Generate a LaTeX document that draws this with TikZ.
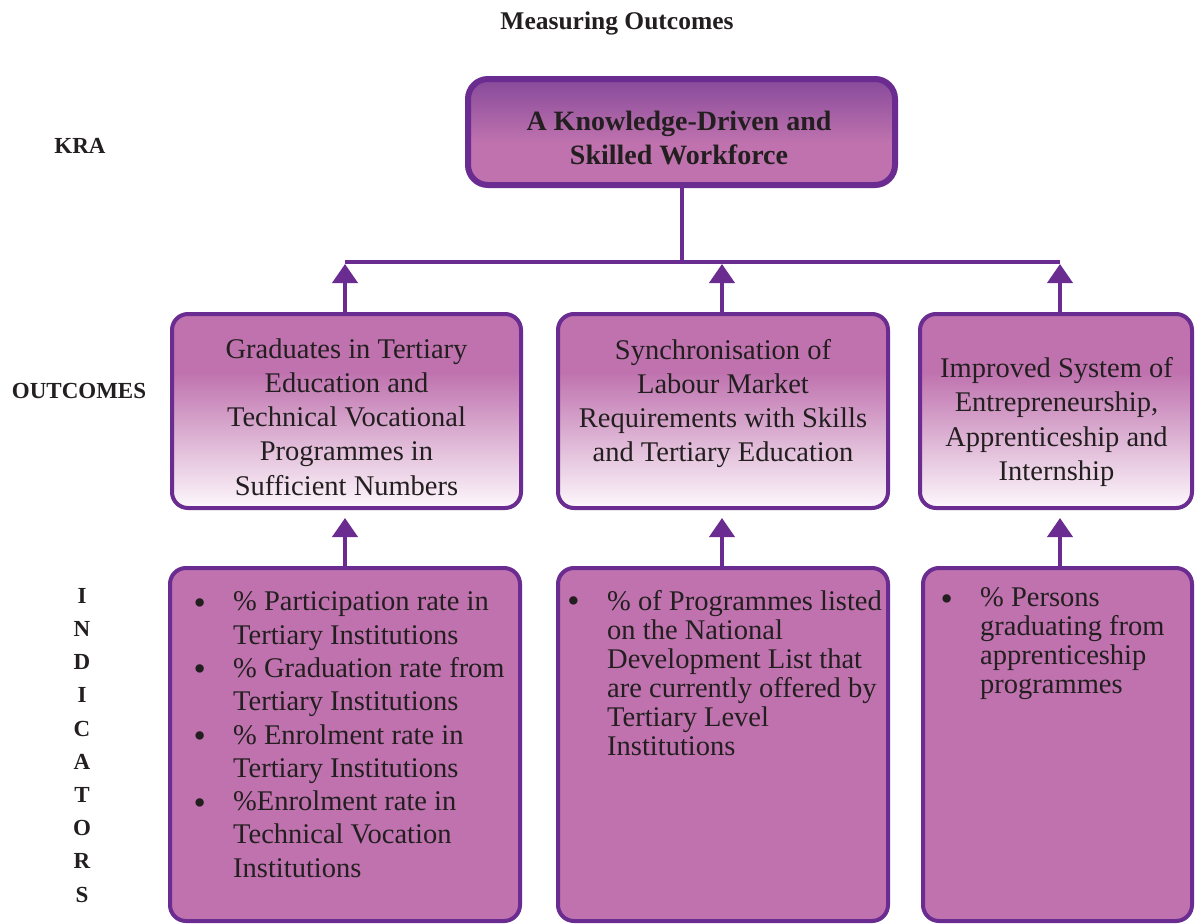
\documentclass[tikz,border=0pt]{standalone}
\usepackage{fontspec}
\setmainfont{Liberation Serif}
\usetikzlibrary{arrows.meta}

\definecolor{edge}{HTML}{6A2C91}
\definecolor{pinkfill}{HTML}{BF72AE}
\definecolor{darktop}{HTML}{874A9A}
\definecolor{paletop}{HTML}{FDF8FC}
\definecolor{ink}{HTML}{231F20}

% dark-to-pink fill of the result area box, pink-to-white fill of the outcome boxes
\pgfdeclareverticalshading{kragrad}{100bp}{color(0bp)=(pinkfill); color(25bp)=(pinkfill); color(45bp)=(pinkfill); color(75bp)=(darktop); color(100bp)=(darktop)}
\pgfdeclareverticalshading{outgrad}{100bp}{color(0bp)=(paletop); color(25bp)=(paletop); color(60bp)=(pinkfill); color(100bp)=(pinkfill)}

\tikzset{
  boxline/.style={draw=edge, line width=4pt, rounded corners=16pt, inner sep=0pt, outer sep=0pt},
  krabox/.style={boxline, line width=6pt, rounded corners=20pt, shade, shading=kragrad},
  outbox/.style={boxline, shade, shading=outgrad},
  indbox/.style={boxline, fill=pinkfill},
  wire/.style={draw=edge, line width=4pt},
  uparrow/.style={wire, -{Triangle[width=25pt,length=19pt]}},
  rowlabel/.style={inner sep=0pt, text=ink, anchor=base, font=\fontsize{23}{33.2}\selectfont\bfseries},
  bodytext/.style={inner sep=0pt, text=ink, font=\fontsize{28.5}{34.3}\selectfont},
  bullet/.style={inner sep=0pt, text=ink, anchor=base, font=\fontsize{35}{35}\selectfont},
}

\begin{document}
\begin{tikzpicture}[x=1pt, y=-1pt]
\useasboundingbox (0,0) rectangle (1195,924);

% headings
\node[rowlabel, font=\fontsize{25.5}{30}\selectfont\bfseries] (title) at (617,29) {Measuring Outcomes};
\node[rowlabel] (lblkra) at (80,153) {KRA};
\node[rowlabel] (lblout) at (79,398) {OUTCOMES};
\node[rowlabel] (lblind) at (82,603.3) {\parbox[t]{30pt}{\centering I\\N\\D\\I\\C\\A\\T\\O\\R\\S}};

% bus joining the outcomes to the result area
\coordinate (b1) at (345,262);
\coordinate (b2) at (722,262);
\coordinate (b3) at (1060,262);
\coordinate (bk) at (681.5,262);

% boxes
\node[krabox, minimum width=427pt, minimum height=106pt] (kra) at (681.5,132) {};
\node[outbox, minimum width=349pt, minimum height=194pt] (o1) at (346.5,411) {};
\node[outbox, minimum width=330pt, minimum height=194pt] (o2) at (723,411) {};
\node[outbox, minimum width=272pt, minimum height=194pt] (o3) at (1056,411) {};
\node[indbox, minimum width=350pt, minimum height=353pt] (i1) at (345,744.5) {};
\node[indbox, minimum width=330pt, minimum height=353pt] (i2) at (723,744.5) {};
\node[indbox, minimum width=269pt, minimum height=353pt] (i3) at (1057.5,744.5) {};

% connectors
\draw[wire] (b1) -- (b3);
\draw[wire] (kra.south) -- (bk);
\draw[uparrow, shorten >=2pt] (o1.north -| b1) -- (b1);
\draw[uparrow, shorten >=2pt] (o2.north -| b2) -- (b2);
\draw[uparrow, shorten >=2pt] (o3.north -| b3) -- (b3);
\draw[uparrow, shorten >=10pt] (i1.north -| b1) -- (o1.south -| b1);
\draw[uparrow, shorten >=10pt] (i2.north -| b2) -- (o2.south -| b2);
\draw[uparrow, shorten >=10pt] (i3.north -| b3) -- (o3.south -| b3);

% box texts
\node[bodytext, anchor=base, font=\fontsize{28}{34.4}\selectfont\bfseries] (kratext) at (679,130.5)
  {\parbox[t]{420pt}{\centering A Knowledge-Driven and\\Skilled Workforce}};
\node[bodytext, anchor=base] (o1text) at (346.5,358)
  {\parbox[t]{340pt}{\centering Graduates in Tertiary\\Education and\\Technical Vocational\\Programmes in\\Sufficient Numbers}};
\node[bodytext, anchor=base] (o2text) at (723,359)
  {\parbox[t]{325pt}{\centering Synchronisation of\\Labour Market\\Requirements with Skills\\and Tertiary Education}};
\node[bodytext, anchor=base, font=\fontsize{28.5}{34.6}\selectfont] (o3text) at (1056.5,377)
  {\parbox[t]{270pt}{\centering Improved System of\\Entrepreneurship,\\Apprenticeship and\\Internship}};

% indicator lists
\node[bodytext, anchor=base west, font=\fontsize{28.5}{33.3}\selectfont] (i1text) at (233,610.8)
  {\parbox[t]{285pt}{\raggedright \% Participation rate in\\Tertiary Institutions\\\% Graduation rate from\\Tertiary Institutions\\\% Enrolment rate in\\Tertiary Institutions\\\%Enrolment rate in\\Technical Vocation\\Institutions}};
\node[bullet] (i1b1) at (199.7,614) {•};
\node[bullet] (i1b2) at (199.7,680.7) {•};
\node[bullet] (i1b3) at (199.7,747.3) {•};
\node[bullet] (i1b4) at (199.7,814) {•};

\node[bodytext, anchor=base west, font=\fontsize{28.5}{29}\selectfont] (i2text) at (607,610)
  {\parbox[t]{280pt}{\raggedright \% of Programmes listed\\on the National\\Development List that\\are currently offered by\\Tertiary Level\\Institutions}};
\node[bullet] (i2b1) at (573.5,612.7) {•};

\node[bodytext, anchor=base west, font=\fontsize{28.5}{29.1}\selectfont] (i3text) at (980,606.3)
  {\parbox[t]{210pt}{\raggedright \% Persons\\graduating from\\apprenticeship\\programmes}};
\node[bullet] (i3b1) at (946.7,610) {•};
\end{tikzpicture}
\end{document}
